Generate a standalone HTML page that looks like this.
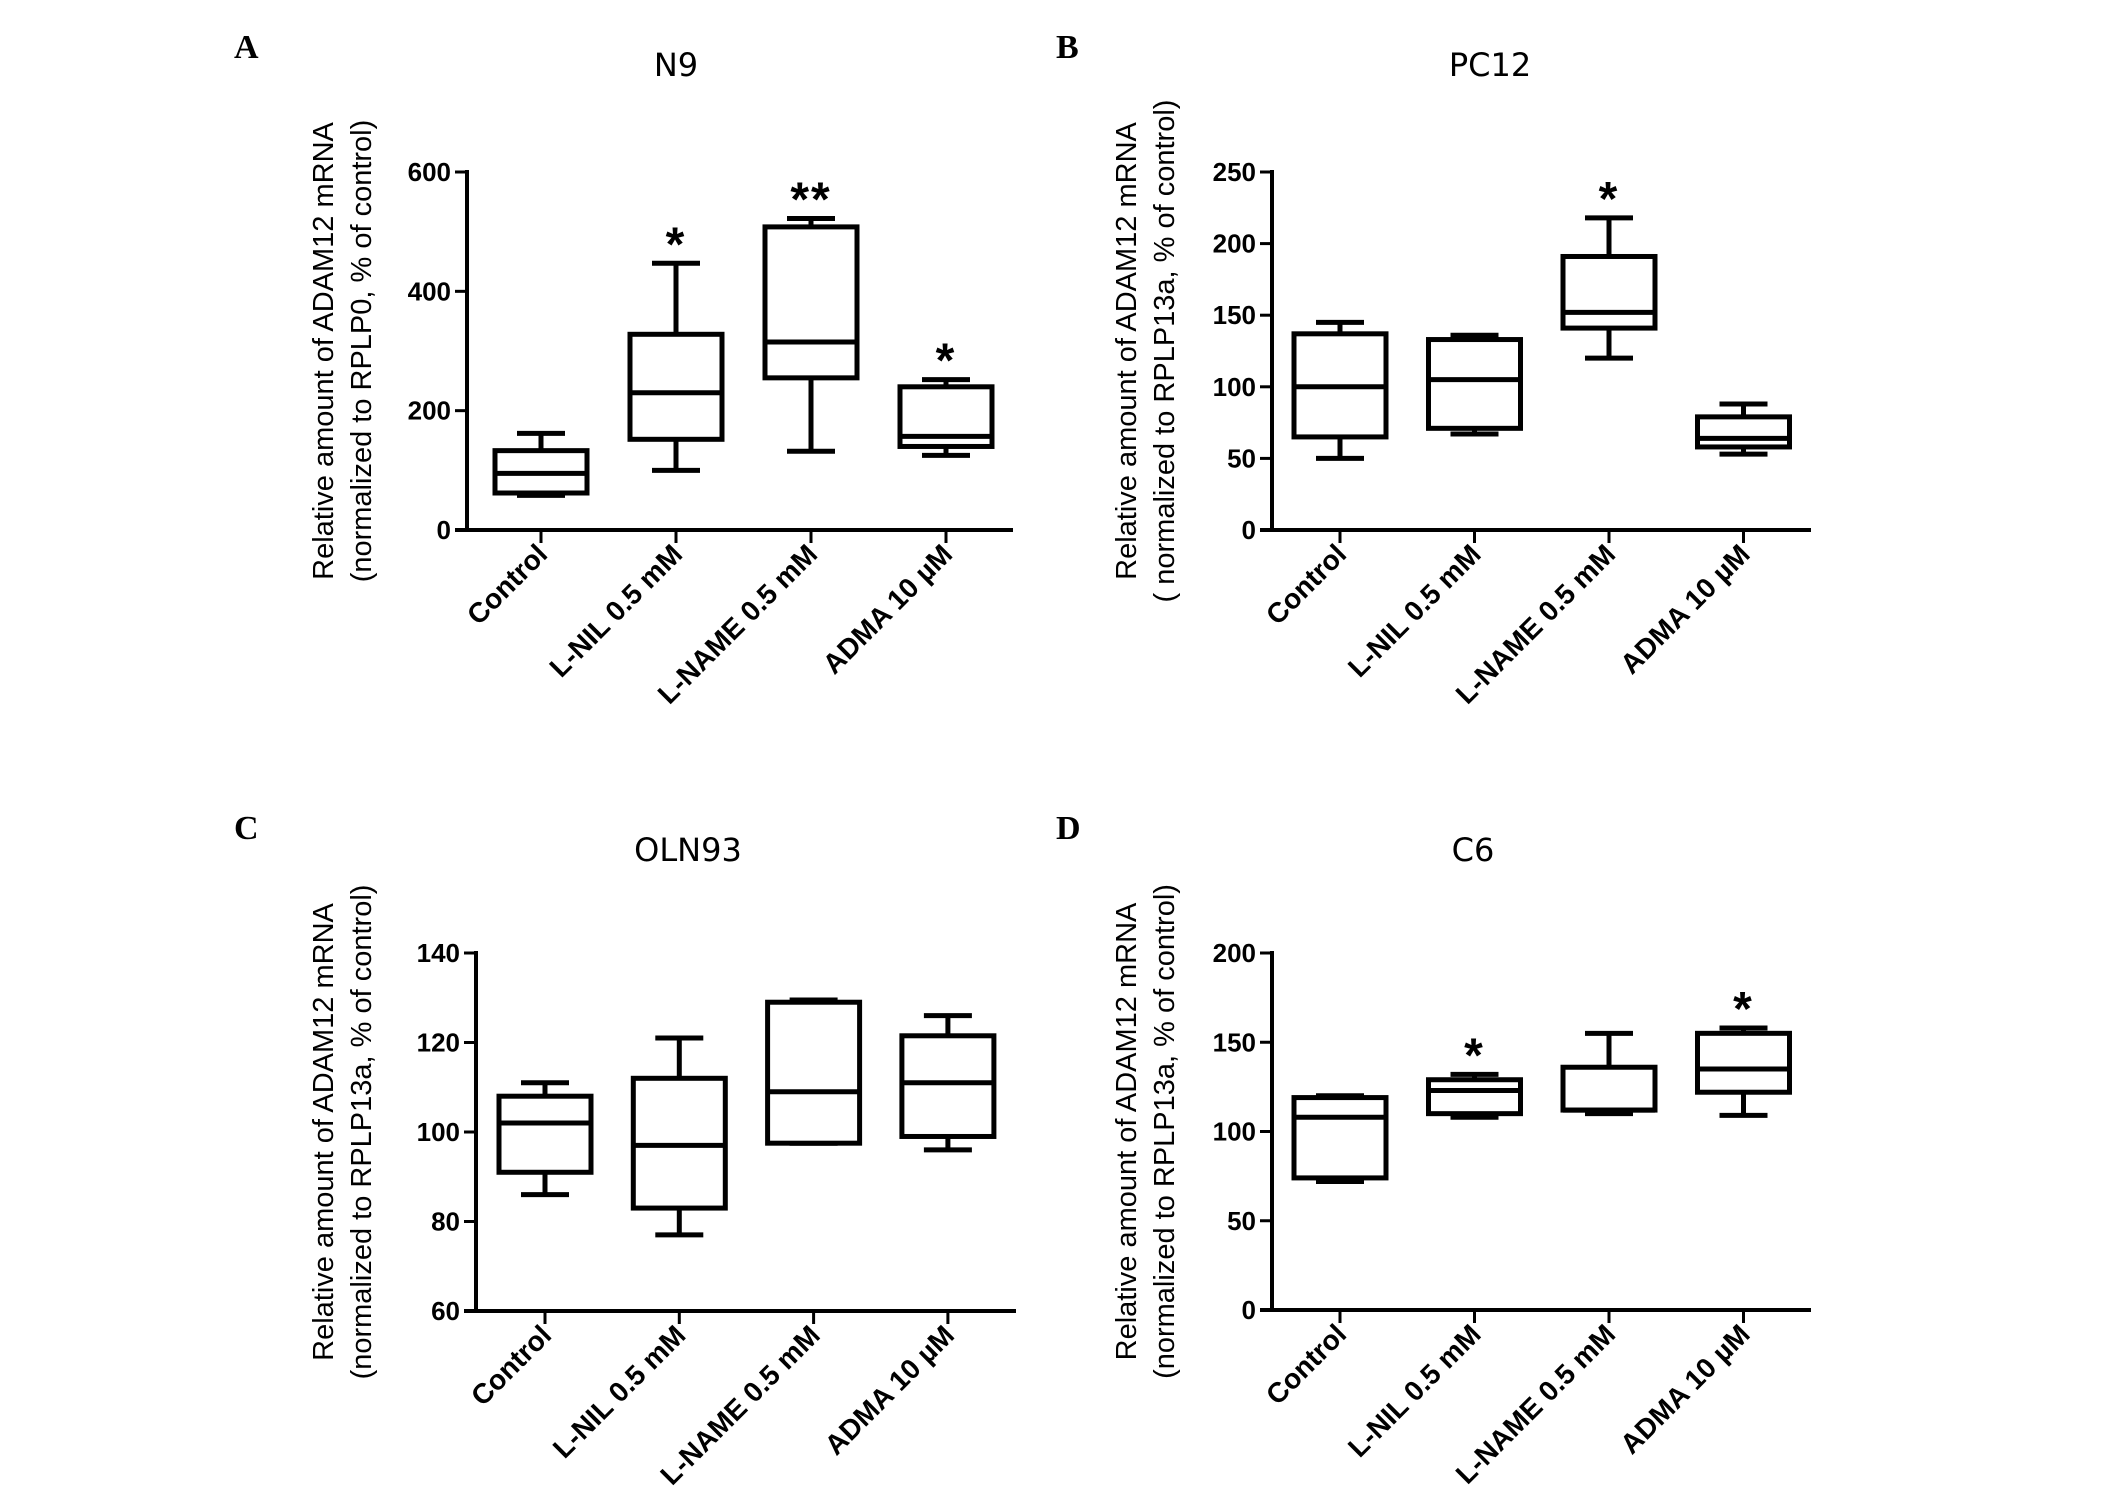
<!DOCTYPE html>
<html><head><meta charset="utf-8"><style>
html,body{margin:0;padding:0;background:#fff}
svg{display:block}
</style></head><body>
<svg id="fig" width="2126" height="1490" viewBox="0 0 2126 1490" xmlns="http://www.w3.org/2000/svg"></svg>
<script>
const categories = ["Control", "L-NIL 0.5 mM", "L-NAME 0.5 mM", "ADMA 10 µM"];
// [min, q1, median, q3, max] for each category
const n9Values = [[58,62,95,133,162],[100,152,230,328,447],[132,255,315,508,522],[125,140,157,240,252]];
const pc12Values = [[50,65,100,137,145],[67,71,105,133,136],[120,141,152,191,218],[53,58,64,79,88]];
const oln93Values = [[86,91,102,108,111],[77,83,97,112,121],[97.5,97.5,109,129,129.5],[96,99,111,121.5,126]];
const c6Values = [[72,74,108,119,120],[108,110,123,129,132],[110,112,112,136,155],[109,122,135,155,158]];
const n9Stars = ["", "*", "**", "*"];
const pc12Stars = ["", "", "*", ""];
const oln93Stars = ["", "", "", ""];
const c6Stars = ["", "*", "", "*"];
const n9Ticks = [0,200,400,600];
const pc12Ticks = [0,50,100,150,200,250];
const oln93Ticks = [60,80,100,120,140];
const c6Ticks = [0,50,100,150,200];

const NS = "http://www.w3.org/2000/svg";
const svg = document.getElementById("fig");
function mk(tag, attrs, parent){
  const e = document.createElementNS(NS, tag);
  for (const k in attrs) e.setAttribute(k, attrs[k]);
  (parent||svg).appendChild(e);
  return e;
}

const panels = [
  {id:"n9", letter:"A", title:"N9", values:n9Values, stars:n9Stars, ticks:n9Ticks,
   ax:467, top:172, bot:530, xEnd:1013, cat0:541, step:135, lx:234, ly:58, tx:676, ty:76,
   ylab:["Relative amount of ADAM12 mRNA","(normalized to RPLP0, % of control)"], ylx:333},
  {id:"pc12", letter:"B", title:"PC12", values:pc12Values, stars:pc12Stars, ticks:pc12Ticks,
   ax:1272, top:172, bot:530, xEnd:1811, cat0:1340, step:134.5, lx:1056, ly:58, tx:1490, ty:76,
   ylab:["Relative amount of ADAM12 mRNA","( normalized to RPLP13a, % of control)"], ylx:1136},
  {id:"oln93", letter:"C", title:"OLN93", values:oln93Values, stars:oln93Stars, ticks:oln93Ticks,
   ax:476, top:953, bot:1311, xEnd:1016, cat0:545, step:134.3, lx:234, ly:839, tx:688, ty:861,
   ylab:["Relative amount of ADAM12 mRNA","(normalized to RPLP13a, % of control)"], ylx:333},
  {id:"c6", letter:"D", title:"C6", values:c6Values, stars:c6Stars, ticks:c6Ticks,
   ax:1272, top:953, bot:1310, xEnd:1811, cat0:1340, step:134.5, lx:1056, ly:839, tx:1473, ty:861,
   ylab:["Relative amount of ADAM12 mRNA","(normalized to RPLP13a, % of control)"], ylx:1136}
];

panels.forEach(p => {
  const g = mk("g", {});
  
  
  const t0 = p.ticks[0], t1 = p.ticks[p.ticks.length-1];
  const y = v => p.bot - (v - t0) / (t1 - t0) * (p.bot - p.top);
  const x = i => p.cat0 + i * p.step;

  const L = mk("text", {x:p.lx, y:p.ly, "font-family":"Liberation Serif, serif", "font-weight":"bold", "font-size":"34", fill:"#000"}, g);
  L.textContent = p.letter;
  
  

  const T = mk("text", {x:p.tx, y:p.ty, "text-anchor":"middle", "font-family":"DejaVu Sans, sans-serif", "font-size":"32", fill:"#000"}, g);
  T.textContent = p.title;
  
  

  const yc = (p.top + p.bot)/2 + 0;
  p.ylab.forEach((s, k) => {
    const t = mk("text", {x:0, y:0, transform:`translate(${p.ylx + k*38},${yc}) rotate(-90)`, "text-anchor":"middle", "font-family":"Liberation Sans, sans-serif", "font-size":"29", fill:"#000"}, g);
    t.textContent = s;
    
    
  });

  const yAxis = mk("line", {x1:p.ax, y1:p.top-2, x2:p.ax, y2:p.bot+2, stroke:"#000", "stroke-width":"4"}, g);
  
  
  const xAxis = mk("line", {x1:p.ax-12, y1:p.bot, x2:p.xEnd, y2:p.bot, stroke:"#000", "stroke-width":"4"}, g);
  
  

  p.ticks.forEach(tv => {
    const tk = mk("line", {x1:p.ax-12, y1:y(tv), x2:p.ax, y2:y(tv), stroke:"#000", "stroke-width":"3"}, g);
    
    
    const tl = mk("text", {x:p.ax-16, y:y(tv)+9, "text-anchor":"end", "font-family":"Liberation Sans, sans-serif", "font-weight":"bold", "font-size":"26", fill:"#000"}, g);
    tl.textContent = tv;
    
    
  });

  categories.forEach((c, i) => {
    const cx = x(i);
    const tk = mk("line", {x1:cx, y1:p.bot, x2:cx, y2:p.bot+13, stroke:"#000", "stroke-width":"3"}, g);
    
    
    const tl = mk("text", {x:0, y:0, transform:`translate(${cx+8},${p.bot+26}) rotate(-45)`, "text-anchor":"end", "font-family":"Liberation Sans, sans-serif", "font-weight":"bold", "font-size":"28", fill:"#000"}, g);
    tl.textContent = c;
    
    

    const v = p.values[i];
    const bw = 92, cw = 48;
    const bg = mk("g", {fill:"none", stroke:"#000", "stroke-width":"5"}, g);
    
    
    mk("line", {x1:cx, y1:y(v[4]), x2:cx, y2:y(v[3])}, bg);
    mk("line", {x1:cx, y1:y(v[1]), x2:cx, y2:y(v[0])}, bg);
    mk("line", {x1:cx-cw/2, y1:y(v[4]), x2:cx+cw/2, y2:y(v[4])}, bg);
    mk("line", {x1:cx-cw/2, y1:y(v[0]), x2:cx+cw/2, y2:y(v[0])}, bg);
    mk("rect", {x:cx-bw/2, y:y(v[3]), width:bw, height:Math.max(0.1, y(v[1])-y(v[3])), fill:"#fff"}, bg);
    mk("line", {x1:cx-bw/2, y1:y(v[2]), x2:cx+bw/2, y2:y(v[2])}, bg);

    if (p.stars[i]) {
      const st = mk("text", {x:cx, y:y(v[4])-3, "text-anchor":"middle", "font-family":"Liberation Sans, sans-serif", "font-weight":"bold", "font-size":"48", "letter-spacing":"2", fill:"#000"}, g);
      st.textContent = p.stars[i];
      
      
    }
  });
});
</script>
</body></html>
